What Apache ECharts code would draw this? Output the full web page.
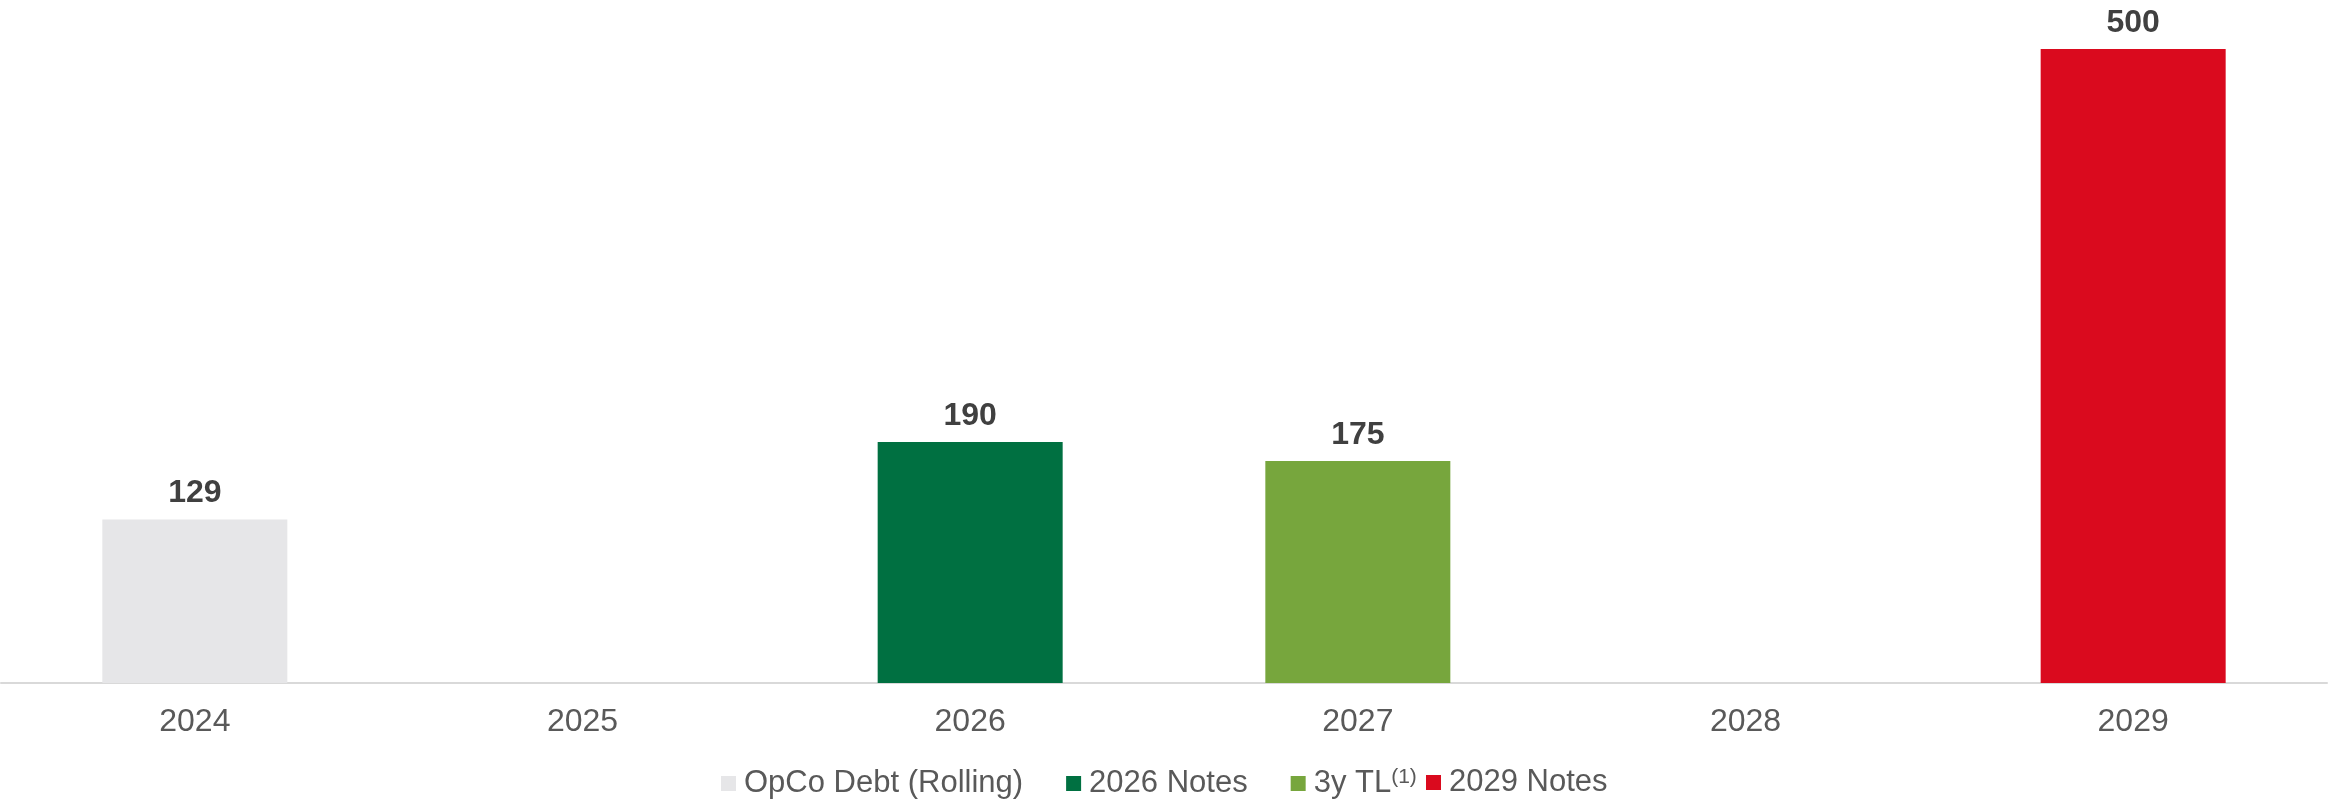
<!DOCTYPE html>
<html><head><meta charset="utf-8">
<script src="https://cdn.jsdelivr.net/npm/echarts@6/dist/echarts.min.js"></script>
<style>html,body{margin:0;padding:0;background:#fff}#c{width:2328px;height:803px}</style>
</head><body><div id="c"></div>
<script>
const categories = ['2024','2025','2026','2027','2028','2029'];
const seriesNames = ['OpCo Debt (Rolling)','2026 Notes','3y TL','2029 Notes'];
const opcoDebt = [129, null, null, null, null, null];
const notes2026 = [null, null, 190, null, null, null];
const tl3y = [null, null, null, 175, null, null];
const notes2029 = [null, null, null, null, null, 500];
const colors = ['#E6E6E8','#007041','#77A63D','#DA0A1E'];
const FONT = '"Liberation Sans", Arial, sans-serif';

const chart = echarts.init(document.getElementById('c'));
function bar(name, data, color){
  return {name, type:'bar', stack:'all', data, barWidth:185,
    itemStyle:{color},
    label:{show:true, position:'top', distance:10, color:'#404040', fontWeight:'bold', fontSize:32, fontFamily:FONT}};
}
const legendText = {color:'#595959', fontSize:31, fontFamily:FONT, padding:[0,0,0,3],
  rich:{sup:{fontSize:21, color:'#595959', fontFamily:FONT, verticalAlign:'top', padding:[0,0,12,0]}}};
chart.setOption({
  animation:false,
  grid:{left:1, right:1, top:49, bottom:120},
  xAxis:{type:'category', data:categories,
    axisLine:{lineStyle:{color:'#D9D9D9', width:2}}, axisTick:{show:false},
    axisLabel:{color:'#595959', fontSize:32, fontFamily:FONT, margin:23}},
  yAxis:{type:'value', min:0, max:500, show:false, splitLine:{show:false}},
  legend:[
    {data:seriesNames.slice(0,3), left:716, top:762, itemWidth:15, itemHeight:15, itemGap:43,
      icon:'rect', textStyle:legendText,
      formatter:n => n === '3y TL' ? n + '{sup|(1)}' : n},
    {data:seriesNames.slice(3), left:1421, top:762, itemWidth:15, itemHeight:15,
      icon:'rect', textStyle:legendText}
  ],
  series:[
    bar(seriesNames[0], opcoDebt, colors[0]),
    bar(seriesNames[1], notes2026, colors[1]),
    bar(seriesNames[2], tl3y, colors[2]),
    bar(seriesNames[3], notes2029, colors[3])
  ]
});
</script></body></html>
